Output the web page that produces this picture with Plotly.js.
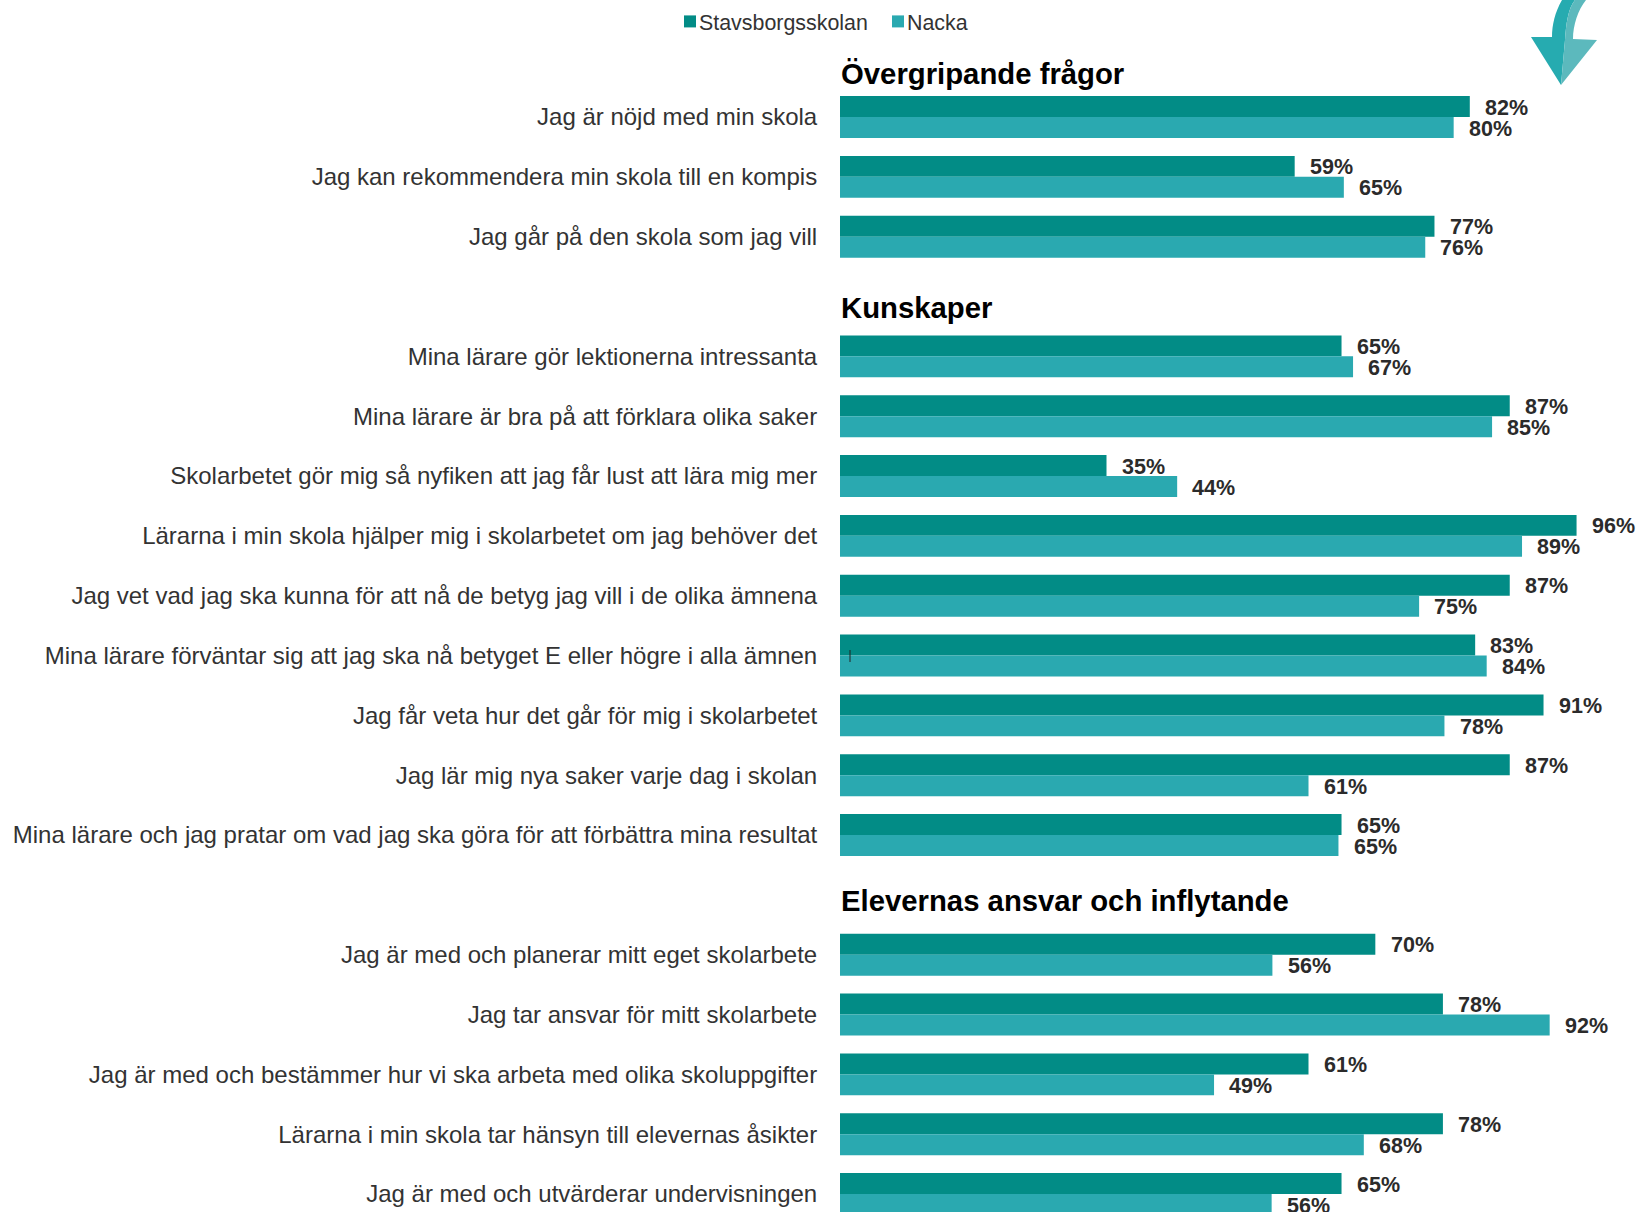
<!DOCTYPE html>
<html><head><meta charset="utf-8">
<script src="https://cdn.plot.ly/plotly-3.0.1.min.js"></script>
<style>html,body{margin:0;padding:0;background:#fff;overflow:hidden}</style>
</head><body><div id="chart" style="width:1638px;height:1212px"></div>
<script>
const questions = [
 "Jag är nöjd med min skola","Jag kan rekommendera min skola till en kompis","Jag går på den skola som jag vill",
 "Mina lärare gör lektionerna intressanta","Mina lärare är bra på att förklara olika saker","Skolarbetet gör mig så nyfiken att jag får lust att lära mig mer","Lärarna i min skola hjälper mig i skolarbetet om jag behöver det","Jag vet vad jag ska kunna för att nå de betyg jag vill i de olika ämnena","Mina lärare förväntar sig att jag ska nå betyget E eller högre i alla ämnen","Jag får veta hur det går för mig i skolarbetet","Jag lär mig nya saker varje dag i skolan","Mina lärare och jag pratar om vad jag ska göra för att förbättra mina resultat",
 "Jag är med och planerar mitt eget skolarbete","Jag tar ansvar för mitt skolarbete","Jag är med och bestämmer hur vi ska arbeta med olika skoluppgifter","Lärarna i min skola tar hänsyn till elevernas åsikter","Jag är med och utvärderar undervisningen"];
const rows = [0,1,2,4,5,6,7,8,9,10,11,12,14,15,16,17,18];
const stavValues = [82,59.2,77.4,65.3,87.2,34.7,95.9,87.2,82.7,91.6,87.2,65.3,69.7,78.5,61,78.5,65.3];
const nackaValues = [79.9,65.6,76.2,66.8,84.9,43.9,88.8,75.4,84.2,78.7,61,64.9,56.3,92.4,48.7,68.2,56.2];
const stavLabels = ["82%","59%","77%","65%","87%","35%","96%","87%","83%","91%","87%","65%","70%","78%","61%","78%","65%"];
const nackaLabels = ["80%","65%","76%","67%","85%","44%","89%","75%","84%","78%","61%","65%","56%","92%","49%","68%","56%"];
const sections = ["Övergripande frågor","Kunskaper","Elevernas ansvar och inflytande"];
const sectionRows = [-0.72,3.18,13.1];
const seriesNames = ["Stavsborgsskolan","Nacka"];
const colors = ["#028c86","#2aa9b0"];

const W=1638,H=1212,L=840;
const px=x=>(x-L)/(W-L), py=y=>1-y/H;
const P=(a)=>a.map(s=>typeof s==='string'?s:px(s[0])+','+py(s[1])).join(' ');
const BARH=0.35;
const FONT='"Liberation Sans", Arial, sans-serif';

const traces=[
 {type:'bar',orientation:'h',name:seriesNames[0],y:rows,x:stavValues,marker:{color:colors[0]},hoverinfo:'x+name'},
 {type:'bar',orientation:'h',name:seriesNames[1],y:rows,x:nackaValues,marker:{color:colors[1]},hoverinfo:'x+name'}
];
const ann=[];
rows.forEach((r,i)=>{
 ann.push({x:stavValues[i],y:r-BARH/2,text:stavLabels[i],xref:'x',yref:'y',xanchor:'left',yanchor:'middle',xshift:13.2,yshift:-1,showarrow:false,font:{family:FONT,size:21.5,color:'#2b2b2b',weight:700}});
 ann.push({x:nackaValues[i],y:r+BARH/2,text:nackaLabels[i],xref:'x',yref:'y',xanchor:'left',yanchor:'middle',xshift:13.2,yshift:-1,showarrow:false,font:{family:FONT,size:21.5,color:'#2b2b2b',weight:700}});
});
sections.forEach((s,i)=>ann.push({x:0,y:sectionRows[i],text:s,xref:'x',yref:'y',xanchor:'left',yanchor:'middle',xshift:-1,showarrow:false,font:{family:FONT,size:29.3,color:'#000',weight:700}}));

const shapes=[
 {type:'path',xref:'paper',yref:'paper',line:{width:0},fillcolor:'#26abb0',
  path:'M'+P([[1562,0],'C',[1555,12],[1552,25],[1552,37],'L',[1531,37],'L',[1561,85],'L',[1565,40],'C',[1566,25],[1568,8],[1575,0],'Z'])},
 {type:'path',xref:'paper',yref:'paper',line:{width:0},fillcolor:'#5cb9bd',
  path:'M'+P([[1575,0],'C',[1568,8],[1566,25],[1565,40],'L',[1561,85],'L',[1597,40],'L',[1573,39],'C',[1573,25],[1578,10],[1586,0],'Z'])},
 {type:'line',xref:'paper',yref:'paper',x0:px(850),x1:px(850),y0:py(650),y1:py(662),line:{color:'#222',width:1}}
];

const layout={
 width:W,height:H,margin:{l:L,r:0,t:0,b:0,pad:0},
 paper_bgcolor:'#fff',plot_bgcolor:'#fff',showlegend:true,
 barmode:'group',bargap:0.30,bargroupgap:0,
 font:{family:FONT,color:'#333'},
 xaxis:{range:[0,103.9],showgrid:false,zeroline:false,showticklabels:false,ticks:'',showline:false,fixedrange:true},
 yaxis:{range:[18.30,-1.956],tickmode:'array',tickvals:rows,ticktext:questions,showgrid:false,zeroline:false,showline:false,
   ticks:'outside',ticklen:17,tickcolor:'rgba(0,0,0,0)',tickfont:{family:FONT,size:24,color:'#333'},automargin:false,fixedrange:true},
 legend:{orientation:'h',x:px(659),xanchor:'left',y:py(1),yanchor:'top',entrywidth:163,entrywidthmode:'pixels',font:{family:FONT,size:21.4,color:'#333'},itemclick:false,itemdoubleclick:false,bgcolor:'rgba(0,0,0,0)'},
 annotations:ann,shapes:shapes
};
Plotly.newPlot('chart',traces,layout,{displayModeBar:false}).then(()=>{
 document.querySelectorAll('.legend .legendsymbols').forEach(n=>n.setAttribute('transform','translate(11,0)'));
});
</script></body></html>
